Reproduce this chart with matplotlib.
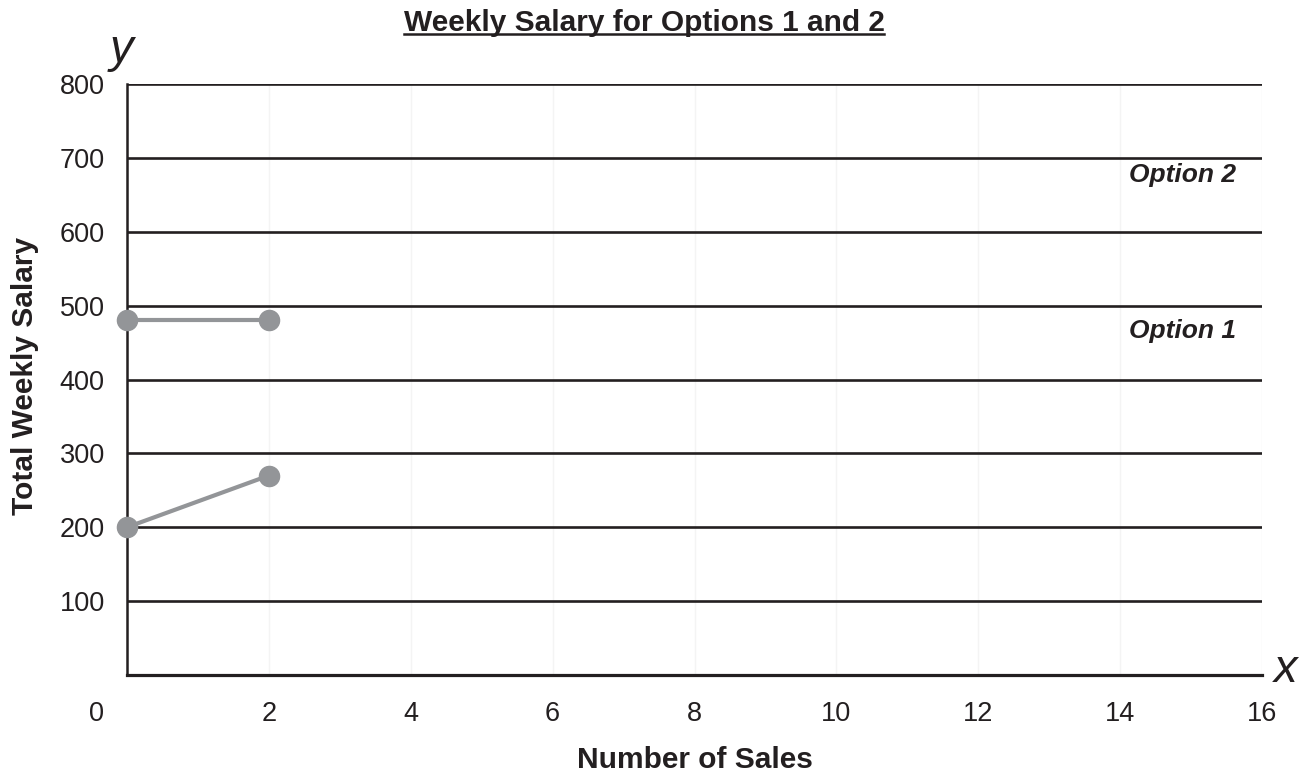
import matplotlib.pyplot as plt
from matplotlib.lines import Line2D
from matplotlib.transforms import ScaledTranslation

plt.rcParams["font.family"] = ["Liberation Sans", "DejaVu Sans"]

# data
sales = [0, 2]
option1 = [480, 480]
option2 = [200, 270]
x_ticks = [0, 2, 4, 6, 8, 10, 12, 14, 16]
y_ticks = [100, 200, 300, 400, 500, 600, 700, 800]
labels = ["Option 2", "Option 1"]
label_y = [677, 466]

ink = "#231f20"
grey = "#939598"

fig = plt.figure(figsize=(13.07, 7.72), dpi=100)
ax_w, ax_h = 1262 - 127, 675 - 84
ax = fig.add_axes([127 / 1307, 1 - 675 / 772, ax_w / 1307, ax_h / 772])

ax.set_xlim(0, 16)
ax.set_ylim(0, 800)
ax.set_xticks(x_ticks)
ax.set_yticks(y_ticks)
ax.tick_params(axis="x", length=0, pad=19, labelsize=19.5, colors=ink)
ax.tick_params(axis="y", length=0, pad=16, labelsize=19.5, colors=ink)

# shift the "0" label left, like the original
lbl0 = ax.get_xticklabels()[0]
lbl0.set_transform(lbl0.get_transform() + ScaledTranslation(-0.30, 0, fig.dpi_scale_trans))

for s in ["top", "right"]:
    ax.spines[s].set_visible(False)
ax.spines["bottom"].set_linewidth(2.3)
ax.spines["left"].set_linewidth(1.8)
ax.spines["bottom"].set_color(ink)
ax.spines["left"].set_color(ink)

for v in y_ticks:
    ax.axhline(v, color=ink, lw=1.9, zorder=1)
for v in x_ticks[1:]:
    ax.axvline(v, color="#f4f4f4", lw=1, zorder=0)

for ys in [option1, option2]:
    ax.plot(sales, ys, color=grey, lw=3, marker="o", ms=14.5, clip_on=False, zorder=3)

for t, yv in zip(labels, label_y):
    ax.text(14.88, yv, t, ha="center", va="center", fontsize=19,
            fontweight="bold", fontstyle="italic", color=ink)

ax.set_xlabel("Number of Sales", fontsize=21.5, fontweight="bold", color=ink)
ax.xaxis.set_label_coords(0.5, -(746 - 675) / ax_h)
ax.set_ylabel("Total Weekly Salary", fontsize=21.5, fontweight="bold", color=ink)
ax.yaxis.set_label_coords(-(127 - 39) / ax_w, (675 - 376) / ax_h)

fig.text(121 / 1307, 1 - 50 / 772, "y", fontsize=34, fontstyle="italic", color=ink,
         ha="center", va="center")
fig.text(1286 / 1307, 1 - 670 / 772, "x", fontsize=34, fontstyle="italic", color=ink,
         ha="center", va="center")

title = fig.text(644 / 1307, 1 - 23 / 772, "Weekly Salary for Options 1 and 2",
                 fontsize=21.5, fontweight="bold", color=ink, ha="center", va="center")
fig.canvas.draw()
bb = title.get_window_extent().transformed(fig.transFigure.inverted())
uy = bb.y0 + 0.004
fig.add_artist(Line2D([bb.x0, bb.x1], [uy, uy], color=ink, lw=1.8, transform=fig.transFigure))

fig.savefig("out.png", dpi=100)
